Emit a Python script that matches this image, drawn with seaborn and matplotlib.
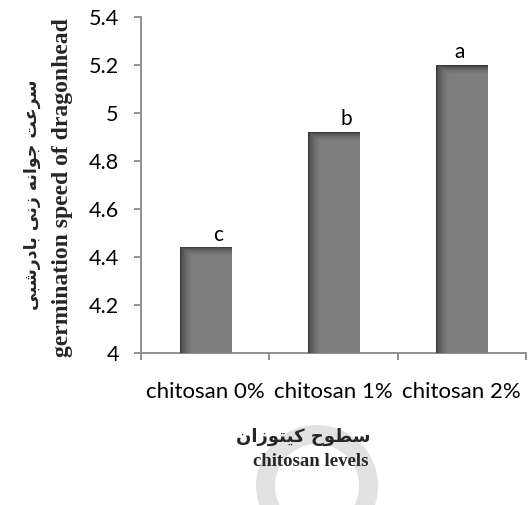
import numpy as np
import pandas as pd
import matplotlib
matplotlib.use("Agg")
import matplotlib.pyplot as plt
from matplotlib.patches import Wedge
import seaborn as sns

# ---- data ----
categories = ["chitosan 0%", "chitosan 1%", "chitosan 2%"]
speeds = [4.44, 4.92, 5.20]
letters = ["c", "b", "a"]
yticks = [4, 4.2, 4.4, 4.6, 4.8, 5, 5.2, 5.4]
ytick_labels = ["4", "4.2", "4.4", "4.6", "4.8", "5", "5.2", "5.4"]
ylabel_fa = "سرعت جوانه زنی بادرشبی"
ylabel_en = "germination speed of dragonhead"
xlabel_fa = "سطوح کیتوزان"
xlabel_en = "chitosan levels"

# ---- minimal Persian shaping (logical -> presentation forms, visual order) ----
FORMS = {  # isolated, final, initial, medial
    "\u0627": ("\uFE8D", "\uFE8E", None, None),
    "\u0628": ("\uFE8F", "\uFE90", "\uFE91", "\uFE92"),
    "\u062A": ("\uFE95", "\uFE96", "\uFE97", "\uFE98"),
    "\u062C": ("\uFE9D", "\uFE9E", "\uFE9F", "\uFEA0"),
    "\u062D": ("\uFEA1", "\uFEA2", "\uFEA3", "\uFEA4"),
    "\u062F": ("\uFEA9", "\uFEAA", None, None),
    "\u0631": ("\uFEAD", "\uFEAE", None, None),
    "\u0632": ("\uFEAF", "\uFEB0", None, None),
    "\u0633": ("\uFEB1", "\uFEB2", "\uFEB3", "\uFEB4"),
    "\u0634": ("\uFEB5", "\uFEB6", "\uFEB7", "\uFEB8"),
    "\u0637": ("\uFEC1", "\uFEC2", "\uFEC3", "\uFEC4"),
    "\u0639": ("\uFEC9", "\uFECA", "\uFECB", "\uFECC"),
    "\u0646": ("\uFEE5", "\uFEE6", "\uFEE7", "\uFEE8"),
    "\u0647": ("\uFEE9", "\uFEEA", "\uFEEB", "\uFEEC"),
    "\u0648": ("\uFEED", "\uFEEE", None, None),
    "\u06CC": ("\uFBFC", "\uFBFD", "\uFBFE", "\uFBFF"),
    "\u06A9": ("\uFB8E", "\uFB8F", "\uFB90", "\uFB91"),
}


def shape_fa(text):
    out = []
    n = len(text)
    for i, ch in enumerate(text):
        f = FORMS.get(ch)
        if f is None:
            out.append(ch)
            continue
        prev = text[i - 1] if i > 0 else ""
        nxt = text[i + 1] if i < n - 1 else ""
        jp = prev in FORMS and FORMS[prev][2] is not None
        jn = f[2] is not None and nxt in FORMS
        if jp and jn:
            out.append(f[3])
        elif jp:
            out.append(f[1])
        elif jn:
            out.append(f[2])
        else:
            out.append(f[0])
    return "".join(out)[::-1]


df = pd.DataFrame({"level": categories, "speed": speeds})

sns.set_theme(style="white")
plt.rcParams["font.family"] = ["Lato", "DejaVu Sans"]

fig = plt.figure(figsize=(5.30, 5.05), dpi=100)

# background overlay in pixel units for the faint watermark ring
bg = fig.add_axes([0, 0, 1, 1], zorder=-1)
bg.set_xlim(0, 530)
bg.set_ylim(505, 0)
bg.axis("off")
bg.add_patch(Wedge((317, 486), 61, 0, 360, width=19,
                   facecolor="#e2e2e2", edgecolor="none"))

ax = fig.add_axes([141 / 530, 1 - 353 / 505, (526 - 141) / 530, (353 - 17) / 505])
ax.patch.set_alpha(0)

sns.barplot(data=df, x="level", y="speed", color="#808080", width=0.4,
            saturation=1, ax=ax, zorder=2)

ymin, ymax = 4, 5.4
ax.set_ylim(ymin, ymax)
ax.set_xlim(-0.5, 2.5)

# gradient shading on the visible part of each bar
for p in list(ax.patches):
    x0, w = p.get_x(), p.get_width()
    top = p.get_y() + p.get_height()
    h = top - ymin
    nx, ny = 60, 200
    gx = np.clip(np.linspace(0, 1, nx) / 0.25, 0, 1)
    yy = np.linspace(0, 1, ny)  # 0 = top
    top_frac = 0.035 / h
    gy = np.clip(yy / top_frac, 0, 1)
    g = np.minimum(gx[None, :], gy[:, None])
    lo, hi = 0.22, 0.50
    vals = lo + (hi - lo) * np.sqrt(g)
    rgb = np.dstack([vals, vals, vals])
    ax.imshow(rgb, extent=[x0, x0 + w, ymin, top], origin="upper",
              aspect="auto", zorder=3, interpolation="bilinear")
ax.set_xlim(-0.5, 2.5)
ax.set_ylim(ymin, ymax)

# significance letters
dx = [0.10, 0.10, -0.02]
for i, (v, s) in enumerate(zip(speeds, letters)):
    ax.text(i + dx[i], v + 0.012, s, ha="center", va="bottom",
            fontsize=15, color="black", zorder=4)

# axes styling
for side in ["top", "right"]:
    ax.spines[side].set_visible(False)
for side in ["left", "bottom"]:
    ax.spines[side].set_color("#888888")
    ax.spines[side].set_linewidth(1.3)

ax.set_yticks(yticks)
ax.set_yticklabels(ytick_labels, fontsize=15.5)
ax.tick_params(axis="y", which="major", direction="out", length=5,
               width=1.3, color="#888888", left=True, pad=11, labelcolor="black")
ax.set_xticks(range(len(categories)))
ax.set_xticklabels(categories, fontsize=16)
ax.tick_params(axis="x", which="major", length=0, pad=21, labelcolor="black")
ax.set_xticks([-0.5, 0.5, 1.5, 2.5], minor=True)
ax.tick_params(axis="x", which="minor", direction="out", length=5,
               width=1.3, color="#888888", bottom=True)
ax.set_xlabel("")
ax.set_ylabel("")

# y labels (two lines, rotated)
fig.text(32 / 530, 1 - 195 / 505, shape_fa(ylabel_fa), rotation=90,
         ha="center", va="center", fontsize=12.5, fontweight="bold",
         family=["DejaVu Sans"])
fig.text(63 / 530, 1 - 188 / 505, ylabel_en, rotation=90,
         ha="center", va="center", fontsize=17, fontweight="bold",
         family=["Liberation Serif"])

# x labels
fig.text(303 / 530, 1 - 437 / 505, shape_fa(xlabel_fa), ha="center",
         va="center", fontsize=13, fontweight="bold", family=["DejaVu Sans"])
fig.text(311 / 530, 1 - 462 / 505, xlabel_en, ha="center", va="center",
         fontsize=13.5, fontweight="bold", family=["Liberation Serif"])

fig.savefig("out.png", dpi=100)
